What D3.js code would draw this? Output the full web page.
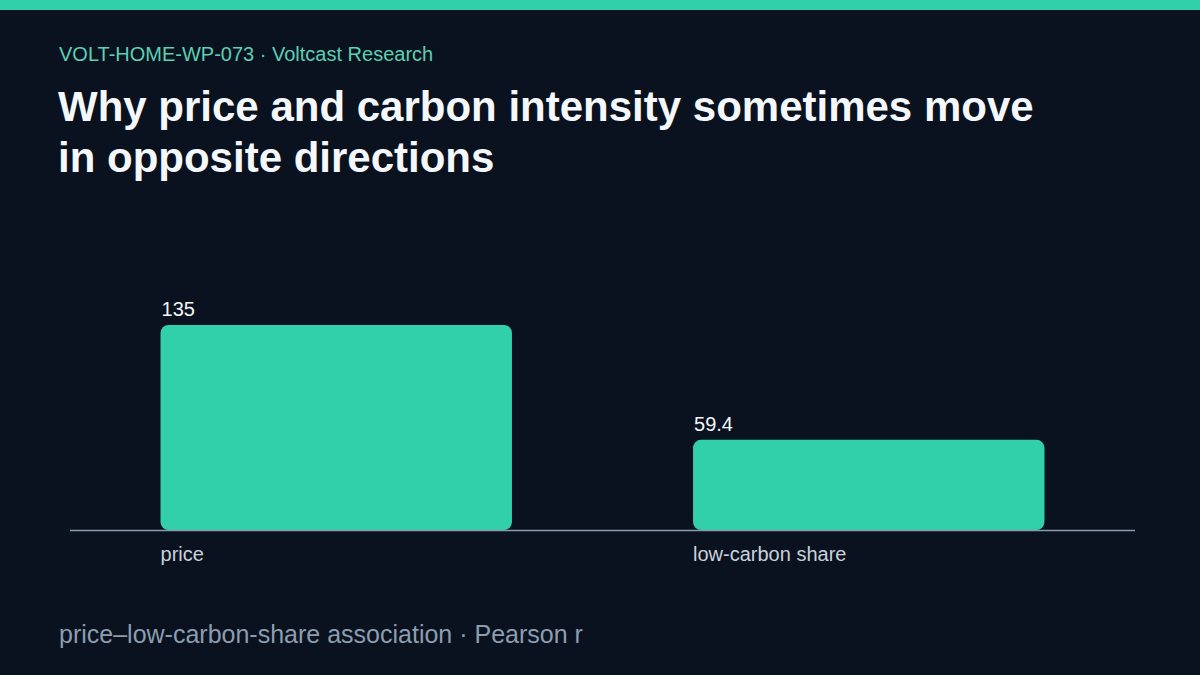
<!DOCTYPE html>
<html>
<head>
<meta charset="utf-8">
<script src="https://cdn.jsdelivr.net/npm/d3@7"></script>
<style>
  html, body { margin: 0; padding: 0; background: #09121e; }
  svg { display: block; }
</style>
</head>
<body>
<script>
// Datos del gráfico
const categories = ['price', 'low-carbon share']
const values = [135, 59.4]
const valueLabels = ['135', '59.4']

const W = 1200, H = 675
const teal = '#31d0ab'
const font = "'Liberation Sans', Arial, sans-serif"

const svg = d3.select('body').append('svg')
  .attr('width', W)
  .attr('height', H)

svg.append('rect').attr('width', W).attr('height', H).attr('fill', '#09121e')
svg.append('rect').attr('width', W).attr('height', 10).attr('fill', teal)

// Encabezado
svg.append('text')
  .attr('x', 59).attr('y', 61)
  .attr('font-family', font).attr('font-size', 20)
  .attr('fill', '#5ccfb4')
  .text('VOLT-HOME-WP-073 · Voltcast Research')

const title = svg.append('text')
  .attr('font-family', font).attr('font-size', 42).attr('font-weight', 'bold')
  .attr('fill', '#f4f7fb')
title.append('tspan').attr('x', 58).attr('y', 121).text('Why price and carbon intensity sometimes move')
title.append('tspan').attr('x', 58).attr('y', 172).text('in opposite directions')

// Escalas
const x = d3.scaleBand()
  .domain(categories)
  .range([70, 1135])
  .paddingInner(0.34)
  .paddingOuter(0.17)

const y = d3.scaleLinear()
  .domain([0, d3.max(values)])
  .range([530, 325])

const data = categories.map((c, i) => ({ cat: c, value: values[i], label: valueLabels[i] }))

// Barras
svg.selectAll('.bar')
  .data(data)
  .enter()
  .append('rect')
  .attr('class', 'bar')
  .attr('x', d => x(d.cat))
  .attr('y', d => y(d.value))
  .attr('width', x.bandwidth())
  .attr('height', d => y(0) - y(d.value))
  .attr('rx', 8)
  .attr('fill', teal)

// Eje x (solo la línea)
svg.append('line')
  .attr('x1', 70).attr('x2', 1135)
  .attr('y1', y(0) + 0.5).attr('y2', y(0) + 0.5)
  .attr('stroke', '#8d9bb0').attr('stroke-width', 1.5)

// Etiquetas de valor
svg.selectAll('.val')
  .data(data)
  .enter()
  .append('text')
  .attr('class', 'val')
  .attr('x', d => x(d.cat) + 1)
  .attr('y', d => y(d.value) - 9)
  .attr('font-family', font).attr('font-size', 20)
  .attr('fill', '#f4f7fb')
  .text(d => d.label)

// Etiquetas de categoría
svg.selectAll('.cat')
  .data(data)
  .enter()
  .append('text')
  .attr('class', 'cat')
  .attr('x', d => x(d.cat))
  .attr('y', 561)
  .attr('font-family', font).attr('font-size', 20)
  .attr('fill', '#c9d1dc')
  .text(d => d.cat)

// Pie
svg.append('text')
  .attr('x', 59).attr('y', 643)
  .attr('font-family', font).attr('font-size', 25)
  .attr('fill', '#8d9db0')
  .text('price–low-carbon-share association · Pearson r')
</script>
</body>
</html>
